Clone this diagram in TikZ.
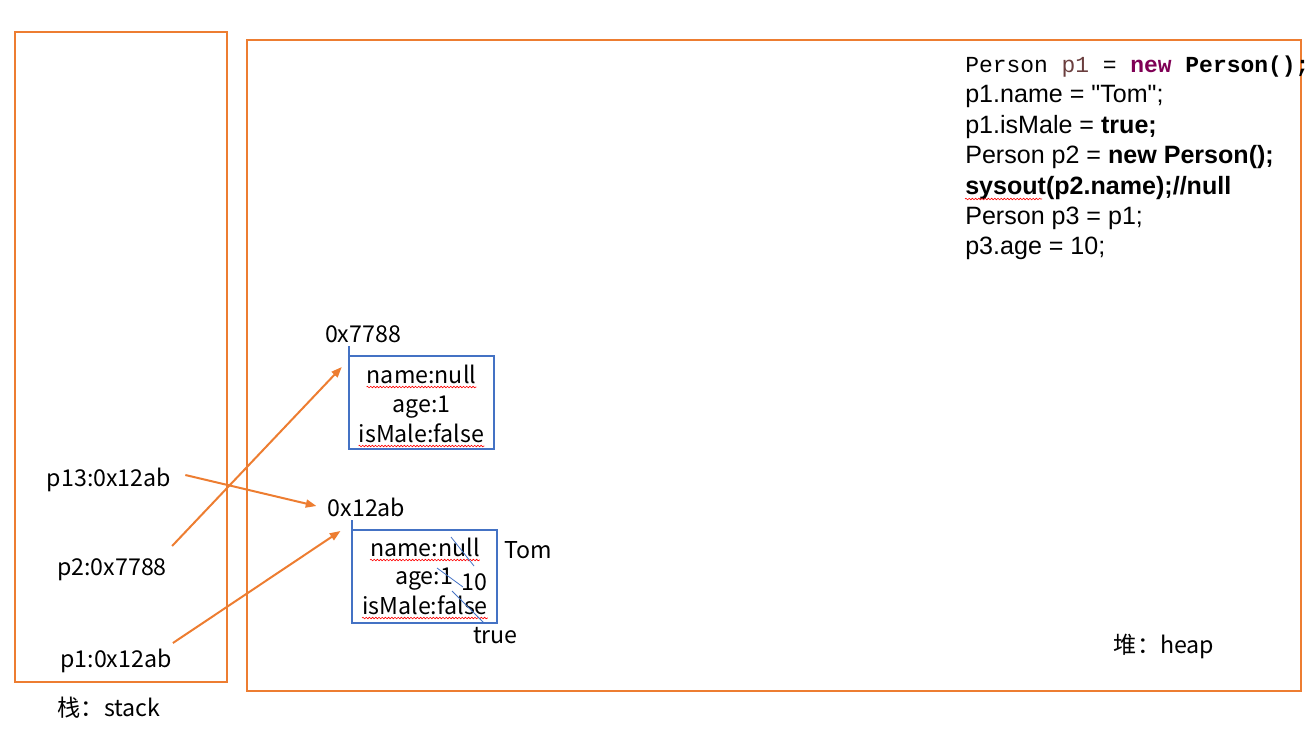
\documentclass[tikz,border=0pt]{standalone}
\usepackage{fontspec}
\setmainfont{Noto Sans CJK SC}
\newfontfamily\codesans{Liberation Sans}
\newfontfamily\codemono{Liberation Mono}
\usetikzlibrary{arrows.meta,decorations.pathmorphing,calc}
\definecolor{orng}{HTML}{ED7D31}
\definecolor{blu}{HTML}{4472C4}
\definecolor{brwn}{HTML}{6A3E3E}
\definecolor{kw}{HTML}{7F0055}
\tikzset{
  region/.style={draw=orng,line width=0.8pt},
  objbox/.style={draw=blu,line width=0.8pt},
  lbl/.style={inner sep=0pt,anchor=base,font=\fontsize{17.4}{20}\selectfont},
  code/.style={inner sep=0pt,anchor=base west,font=\codesans\fontsize{18.8}{22}\selectfont},
  arr/.style={draw=orng,line width=1.5pt,-{Triangle[length=8pt,width=6pt]}},
  strike/.style={draw=blu,line width=0.6pt},
  squig/.style={draw=red,line width=0.45pt,decorate,decoration={snake,amplitude=0.6pt,segment length=2.4pt}}
}
\begin{document}
\begin{tikzpicture}[x=0.75pt,y=-0.75pt]
\useasboundingbox (0,0) rectangle (1312,733);
% regions
\draw[region] (15,32) rectangle (227,682);
\draw[region] (247,40) rectangle (1301,691);
% code
\node[code,font=\codemono\fontsize{17.2}{22}\selectfont] (c1) at (965,72) {Person \textcolor{brwn}{p1} = \textbf{\textcolor{kw}{new}} \textbf{Person();}};
\node[code] (c2) at (965,102) {p1.name = "Tom";};
\node[code] (c3) at (965,133) {p1.isMale = \textbf{true;}};
\node[code] (c4) at (965,163) {Person p2 = \textbf{new Person();}};
\node[code] (c5) at (965,194) {\textbf{sysout(p2.name);//null}};
\node[code] (c6) at (965,224) {Person p3 = p1;};
\node[code] (c7) at (965,254) {p3.age = 10;};
\draw[squig] ($(c5.base west)+(0,5)$) -- ($(c5.base west)+(77,5)$);
% stack labels
\node[lbl] (p13) at (109,486) {p13:0x12ab};
\node[lbl] (p2) at (112,575) {p2:0x7788};
\node[lbl] (p1) at (116,667) {p1:0x12ab};
\node[lbl] (stk) at (109,716) {栈：stack};
\node[lbl] (hp) at (1164,653) {堆：heap};
% object 0x7788
\node[lbl] (a2) at (363,342) {0x7788};
\draw[objbox] (349,346) -- (349,449) -- (494,449) -- (494,356) -- (349,356);
\node[lbl] (o2n) at (421.5,383) {name:null};
\node[lbl] (o2a) at (421.5,412) {age:1};
\node[lbl] (o2m) at (421.5,442) {isMale:false};
\draw[squig] ($(o2n.base west)+(0,4)$) -- ($(o2n.base east)+(0,4)$);
\draw[squig] ($(o2m.base west)+(0,4)$) -- ($(o2m.base east)+(0,4)$);
% object 0x12ab
\node[lbl] (a1) at (366.5,516) {0x12ab};
\draw[objbox] (352,520) -- (352,623) -- (497,623) -- (497,530) -- (352,530);
\node[lbl] (o1n) at (425,556) {name:null};
\node[lbl] (o1a) at (424,584) {age:1};
\node[lbl] (o1m) at (425,614) {isMale:false};
\draw[squig] ($(o1n.base west)+(0,4)$) -- ($(o1n.base east)+(0,4)$);
\draw[squig] ($(o1m.base west)+(0,4)$) -- ($(o1m.base east)+(0,4)$);
\node[lbl] (tom) at (528,558) {Tom};
\node[lbl] (ten) at (474.5,590) {10};
\node[lbl] (tru) at (495.5,643) {true};
\draw[strike] (451,537) -- (474,566);
\draw[strike] (437,568) -- (463,587);
\draw[strike] (452,591) -- (484,623);
% references
\draw[arr] ($(p13.base east)+(14,-11)$) -- ($(a1.base west)+(-11,-10)$);
\draw[arr] ($(p2.base east)+(5,-29)$) -- ($(a2.base west)+(17,25)$);
\draw[arr] ($(p1.base east)+(1,-24)$) -- ($(a1.base west)+(13,15)$);
\end{tikzpicture}
\end{document}
